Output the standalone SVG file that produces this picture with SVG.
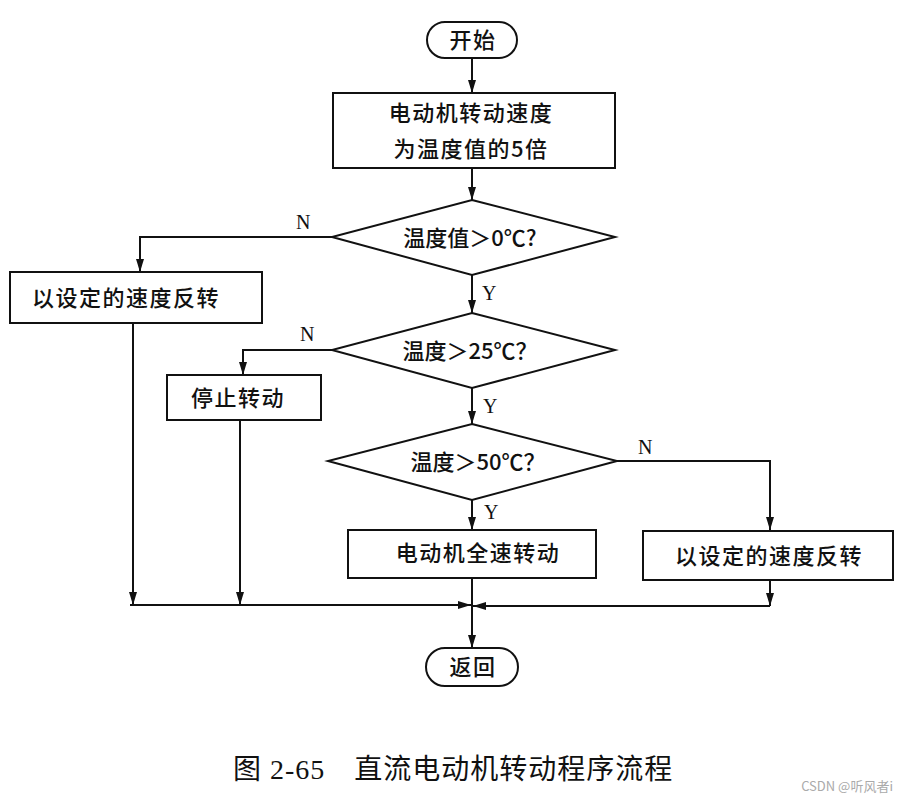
<svg xmlns="http://www.w3.org/2000/svg" width="905" height="803" viewBox="0 0 905 803">
<defs>
<marker id="ah" viewBox="0 0 10 10" refX="10" refY="5" markerWidth="13" markerHeight="8" markerUnits="userSpaceOnUse" orient="auto" preserveAspectRatio="none">
<path d="M0,0 L10,5 L0,10 z" fill="#111"/>
</marker>
</defs>
<style>
.s{fill:#fff;stroke:#111;stroke-width:2}
.c{fill:none;stroke:#111;stroke-width:2}
.t{font-family:"Noto Sans CJK SC","Noto Sans CJK JP",sans-serif;font-size:22px;font-weight:500;fill:#111;text-anchor:middle;letter-spacing:1.5px}
.l{font-family:"Liberation Serif",serif;font-size:20px;fill:#111}
.cap{font-family:"Liberation Serif","Noto Sans CJK SC",serif;font-size:28px;fill:#111;letter-spacing:1px}
</style>
<rect width="905" height="803" fill="#fff"/>
<g id="connectors">
<path class="c" d="M472,58 V93" marker-end="url(#ah)"/>
<path class="c" d="M472,168 V200" marker-end="url(#ah)"/>
<path class="c" d="M332,237 H140 V272" marker-end="url(#ah)"/>
<path class="c" d="M472,275 V313" marker-end="url(#ah)"/>
<path class="c" d="M332,350 H243 V375" marker-end="url(#ah)"/>
<path class="c" d="M472,388 V424" marker-end="url(#ah)"/>
<path class="c" d="M617,461 H770 V530" marker-end="url(#ah)"/>
<path class="c" d="M472,500 V530" marker-end="url(#ah)"/>
<path class="c" d="M133,323 V605" marker-end="url(#ah)"/>
<path class="c" d="M240,420 V605" marker-end="url(#ah)"/>
<path class="c" d="M770,580 V606" marker-end="url(#ah)"/>
<path class="c" d="M130,605 H471" marker-end="url(#ah)"/>
<path class="c" d="M770,606 H473" marker-end="url(#ah)"/>
<path class="c" d="M472,578 V648" marker-end="url(#ah)"/>
<text class="l" x="296" y="229">N</text>
<text class="l" x="482" y="300">Y</text>
<text class="l" x="300" y="341">N</text>
<text class="l" x="483" y="413">Y</text>
<text class="l" x="638" y="454">N</text>
<text class="l" x="484" y="519">Y</text>
</g>
<g id="start">
<rect class="s" x="427" y="22" width="90" height="36" rx="18"/>
<text class="t" x="473" y="48">开始</text>
</g>
<g id="speed">
<rect class="s" x="333" y="93" width="282" height="75"/>
<text class="t" x="471" y="121">电动机转动速度</text>
<text class="t" x="471" y="157">为温度值的5倍</text>
</g>
<g id="d1">
<polygon class="s" points="472,200 615,237 472,275 332,237"/>
<text class="t" x="470" y="246" style="letter-spacing:0">温度值＞0℃?</text>
</g>
<g id="rev1">
<rect class="s" x="10" y="272" width="252" height="51"/>
<text class="t" x="126" y="306">以设定的速度反转</text>
</g>
<g id="d2">
<polygon class="s" points="472,313 615,350 472,388 332,350"/>
<text class="t" x="470" y="359" style="letter-spacing:0">温度＞25℃？</text>
</g>
<g id="stop">
<rect class="s" x="167" y="375" width="154" height="45"/>
<text class="t" x="238" y="406">停止转动</text>
</g>
<g id="d3">
<polygon class="s" points="472,424 617,461 472,500 328,461"/>
<text class="t" x="478" y="470" style="letter-spacing:0">温度＞50℃？</text>
</g>
<g id="full">
<rect class="s" x="348" y="530" width="248" height="48"/>
<text class="t" x="478" y="561">电动机全速转动</text>
</g>
<g id="rev2">
<rect class="s" x="643" y="531" width="250" height="49"/>
<text class="t" x="769" y="564">以设定的速度反转</text>
</g>
<g id="end">
<rect class="s" x="426" y="648" width="92" height="38" rx="19"/>
<text class="t" x="473" y="675">返回</text>
</g>
<text class="cap" x="233" y="779">图 2-65　直流电动机转动程序流程</text>
<text x="893" y="791" text-anchor="end" style="font-family:'Noto Sans CJK SC',sans-serif;font-size:13px;fill:#aaa">CSDN @听风者i</text>
</svg>
